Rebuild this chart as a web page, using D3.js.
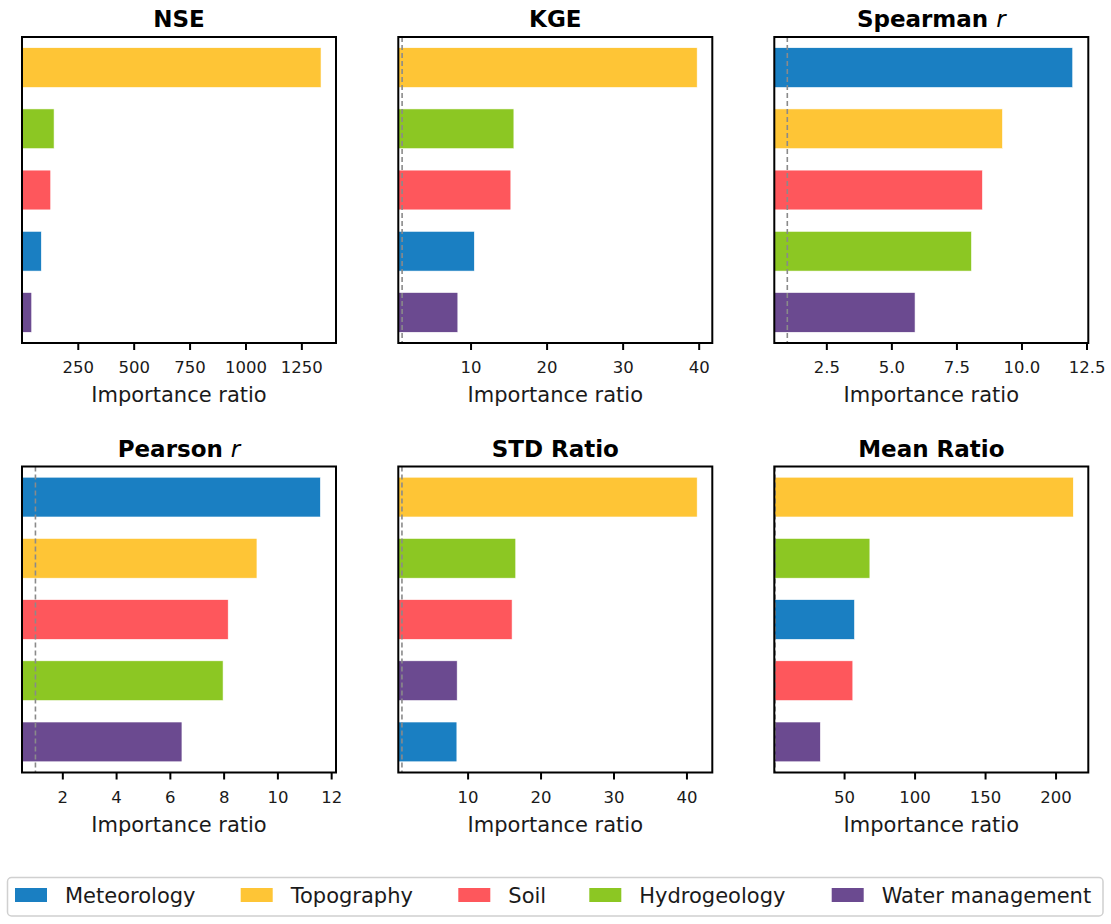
<!DOCTYPE html>
<html>
<head>
<meta charset="utf-8">
<script src="https://cdn.jsdelivr.net/npm/d3@7"></script>
<style>
  html, body { margin: 0; padding: 0; background: #ffffff; }
  svg { display: block; font-family: "DejaVu Sans", sans-serif; }
  svg text { font-family: "DejaVu Sans", sans-serif; }
</style>
</head>
<body>
<svg id="chart" width="1111" height="924"></svg>
<script>
// Factor groups, in legend order
const categories = ["Meteorology", "Topography", "Soil", "Hydrogeology", "Water management"];
const colors = ["#1a7fc2", "#fec536", "#fe575c", "#8cc723", "#6b4a90"];

// Importance ratio per metric, in the same order as categories
const nseValues      = [87, 1338, 129, 144, 44];
const kgeValues      = [10.5, 39.8, 15.3, 15.7, 8.33];
const spearmanValues = [11.97, 9.27, 8.5, 8.08, 5.91];
const pearsonValues  = [11.6, 9.24, 8.17, 7.98, 6.45];
const stdValues      = [8.53, 41.47, 16.1, 16.6, 8.57];
const meanValues     = [57.4, 212.6, 56.2, 68.3, 33.2];

// Tick labels per panel
const nseTicks      = [250, 500, 750, 1000, 1250];
const kgeTicks      = [10, 20, 30, 40];
const spearmanTicks = [2.5, 5.0, 7.5, 10.0, 12.5];
const pearsonTicks  = [2, 4, 6, 8, 10, 12];
const stdTicks      = [10, 20, 30, 40];
const meanTicks     = [50, 100, 150, 200];

const panels = [
  { title: "NSE", italic: null, values: nseValues, ticks: nseTicks, fmt: d3.format("d") },
  { title: "KGE", italic: null, values: kgeValues, ticks: kgeTicks, fmt: d3.format("d") },
  { title: "Spearman ", italic: "r", values: spearmanValues, ticks: spearmanTicks, fmt: d3.format(".1f") },
  { title: "Pearson ", italic: "r", values: pearsonValues, ticks: pearsonTicks, fmt: d3.format("d") },
  { title: "STD Ratio", italic: null, values: stdValues, ticks: stdTicks, fmt: d3.format("d") },
  { title: "Mean Ratio", italic: null, values: meanValues, ticks: meanTicks, fmt: d3.format("d") }
];

const svg = d3.select("#chart");

const panelW = 314, panelH = 306;
const colX = [22, 398.3, 774.3];
const rowY = [37, 466.5];
const xMin = 0.5;      // left limit of every x axis
const refLine = 1;     // importance ratio of 1

panels.forEach((p, i) => {
  const left = colX[i % 3], top = rowY[Math.floor(i / 3)];
  const g = svg.append("g").attr("transform", `translate(${left},${top})`);

  const rows = categories.map((c, k) => ({ cat: c, color: colors[k], value: p.values[k] }))
    .sort((a, b) => b.value - a.value);

  const xMax = d3.max(rows, d => d.value) * 1.05;
  const x = d3.scaleLinear().domain([xMin, xMax]).range([0, panelW]);
  const y = d3.scaleBand().domain(rows.map(d => d.cat)).range([0, panelH]).paddingInner(0.35).paddingOuter(0.175);

  const clipId = "clip" + i;
  g.append("clipPath").attr("id", clipId)
    .append("rect").attr("width", panelW).attr("height", panelH);

  const plot = g.append("g").attr("clip-path", `url(#${clipId})`);

  plot.selectAll("rect.bar").data(rows).join("rect")
    .attr("class", "bar")
    .attr("x", x(0))
    .attr("y", d => y(d.cat))
    .attr("width", d => x(d.value) - x(0))
    .attr("height", y.bandwidth())
    .attr("fill", d => d.color)
    .attr("stroke", "#ffffff")
    .attr("stroke-width", 0.6);

  plot.append("line")
    .attr("x1", x(refLine)).attr("x2", x(refLine))
    .attr("y1", 0).attr("y2", panelH)
    .attr("stroke", "#8a8a8a")
    .attr("stroke-width", 1.6)
    .attr("stroke-dasharray", "5,3");

  // frame
  g.append("rect")
    .attr("width", panelW).attr("height", panelH)
    .attr("fill", "none").attr("stroke", "#000").attr("stroke-width", 2);

  // x axis
  const axis = d3.axisBottom(x).tickValues(p.ticks).tickFormat(p.fmt).tickSize(7).tickPadding(4);
  const ax = g.append("g").attr("transform", `translate(0,${panelH})`).call(axis)
    .attr("font-family", "DejaVu Sans, sans-serif")
    .attr("font-size", 16.5);
  ax.select(".domain").remove();
  ax.selectAll(".tick line").attr("stroke", "#000").attr("stroke-width", 2);
  ax.selectAll(".tick text")
    .attr("fill", "#1a1a1a")
    .style("font-size", "16.5px")
    .attr("dy", null)
    .attr("y", 30.2);

  g.append("text")
    .attr("x", panelW / 2).attr("y", 365)
    .attr("text-anchor", "middle")
    .style("font-size", "21px")
    .attr("fill", "#1a1a1a")
    .text("Importance ratio");

  const t = g.append("text")
    .attr("x", panelW / 2).attr("y", -9.7)
    .attr("text-anchor", "middle")
    .style("font-size", "23px")
    .style("font-weight", "bold")
    .attr("fill", "#000");
  t.append("tspan").text(p.title);
  if (p.italic) {
    t.append("tspan").style("font-weight", "normal").style("font-style", "italic").text(p.italic);
  }
});

// legend
const legend = svg.append("g");
legend.append("rect")
  .attr("x", 7.5).attr("y", 877.5).attr("width", 1095.5).attr("height", 38.5)
  .attr("rx", 4).attr("ry", 4)
  .attr("fill", "#fff").attr("stroke", "#d0d0d0").attr("stroke-width", 1.5);

const swatchX = [15, 240.7, 458.3, 589.3, 831.7];
categories.forEach((c, k) => {
  legend.append("rect")
    .attr("x", swatchX[k]).attr("y", 888).attr("width", 32).attr("height", 14)
    .attr("fill", colors[k]);
  legend.append("text")
    .attr("x", swatchX[k] + 50).attr("y", 902.5)
    .style("font-size", "21px")
    .attr("fill", "#1a1a1a")
    .text(c);
});
</script>
</body>
</html>
